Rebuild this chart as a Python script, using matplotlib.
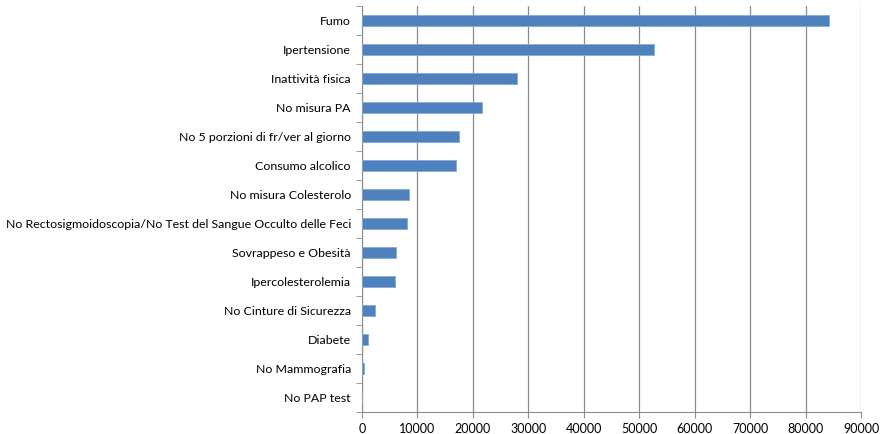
import numpy as np
import matplotlib.pyplot as plt
from matplotlib.ticker import FixedLocator

plt.rcParams['font.family'] = ['Lato', 'DejaVu Sans']

# Fattori di rischio (dall'alto verso il basso) e valori
fattori = [
    'Fumo',
    'Ipertensione',
    'Inattività fisica',
    'No misura PA',
    'No 5 porzioni di fr/ver al giorno',
    'Consumo alcolico',
    'No misura Colesterolo',
    'No Rectosigmoidoscopia/No Test del Sangue Occulto delle Feci',
    'Sovrappeso e Obesità',
    'Ipercolesterolemia',
    'No Cinture di Sicurezza',
    'Diabete',
    'No Mammografia',
    'No PAP test',
]
valori = [84200, 52700, 28000, 21600, 17500, 16900, 8400, 8100, 6200, 5950, 2350, 1100, 400, 50]
x_ticks = list(range(0, 90001, 10000))

fig = plt.figure(figsize=(8.8, 4.34), dpi=100)
ax = fig.add_axes([362 / 880, 1 - 412 / 434, (861 - 362) / 880, (412 - 6) / 434])

n = len(fattori)
y = np.arange(n)[::-1]
ax.barh(y, valori, height=0.4, color='#4F81BD', edgecolor='#86A9D6', linewidth=0.6, zorder=3)

ax.set_xlim(0, 90000)
ax.set_ylim(-0.5, n - 0.5)
ax.set_xticks(x_ticks)
ax.set_xticklabels([str(v) for v in x_ticks])
ax.set_yticks(y)
ax.set_yticklabels(fattori)
ax.yaxis.set_minor_locator(FixedLocator(np.arange(-0.5, n, 1.0)))

ax.grid(axis='x', color='#8C8C8C', linewidth=0.9, zorder=0)
ax.tick_params(axis='y', which='major', length=0, pad=8, labelsize=8.9)
ax.tick_params(axis='y', which='minor', length=4, color='#8C8C8C', direction='out')
ax.tick_params(axis='x', which='major', length=4, color='#8C8C8C', labelsize=9, pad=4)

for side in ['top', 'right']:
    ax.spines[side].set_visible(False)
for side in ['left', 'bottom']:
    ax.spines[side].set_color('#8C8C8C')

fig.savefig('out.png', dpi=100)
